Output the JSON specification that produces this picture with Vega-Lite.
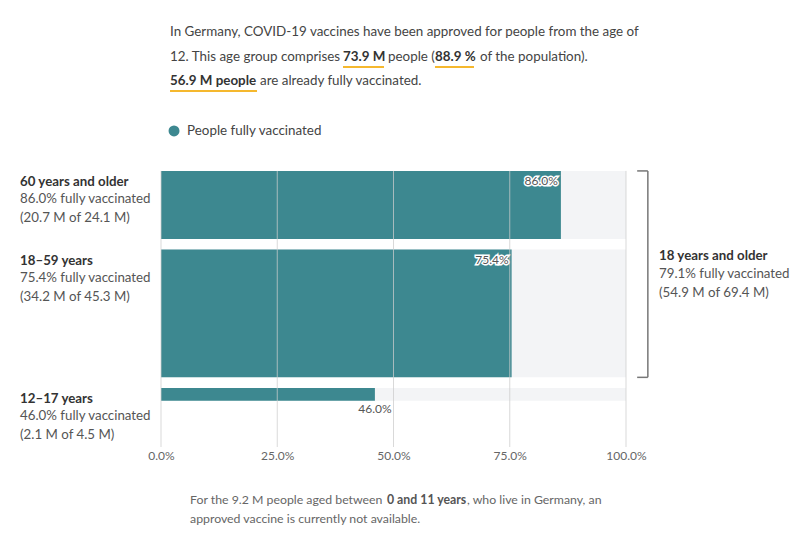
{
  "$schema": "https://vega.github.io/schema/vega-lite/v6.json",
  "width": 465,
  "height": 282,
  "autosize": {"type": "none"},
  "padding": {"left": 161, "top": 165, "right": 174, "bottom": 86},
  "background": "white",
  "config": {"font": "Lato", "view": {"stroke": null}, "text": {"font": "Lato"}},
  "data": {"values": [
    {"group": "60 years and older", "pct": 86.0, "vacc": 20.7, "pop": 24.1, "order": 1},
    {"group": "18–59 years", "pct": 75.4, "vacc": 34.2, "pop": 45.3, "order": 2},
    {"group": "12–17 years", "pct": 46.0, "vacc": 2.1, "pop": 4.5, "order": 3}
  ]},
  "transform": [
    {"window": [{"op": "sum", "field": "pop", "as": "cum"}, {"op": "row_number", "as": "idx"}], "sort": [{"field": "order"}]},
    {"calculate": "datum.cum - datum.pop + 2.1 + (datum.idx - 1) * 3.8", "as": "y0"},
    {"calculate": "datum.y0 + datum.pop", "as": "y1"},
    {"calculate": "0", "as": "zero"},
    {"calculate": "100", "as": "full"},
    {"calculate": "format(datum.pct, '.1f') + '%'", "as": "label"},
    {"calculate": "[format(datum.pct, '.1f') + '% fully vaccinated', '(' + format(datum.vacc, '.1f') + ' M of ' + format(datum.pop, '.1f') + ' M)']", "as": "lines"}
  ],
  "layer": [
    {
      "mark": {"type": "bar", "color": "#f3f4f6"},
      "encoding": {
        "x": {"field": "zero", "type": "quantitative", "scale": {"domain": [0, 100], "nice": false},
          "axis": {"values": [0, 25, 50, 75, 100], "labelExpr": "format(datum.value, '.1f') + '%'", "title": null, "domain": false, "ticks": false, "grid": false, "labelFlush": false, "labelFontSize": 12, "labelColor": "#666", "labelPadding": 3, "labelFont": "Lato"}},
        "x2": {"field": "full"},
        "y": {"field": "y0", "type": "quantitative", "scale": {"domain": [0, 100], "nice": false, "reverse": true}, "axis": null},
        "y2": {"field": "y1"}
      }
    },
    {
      "mark": {"type": "bar", "color": "#3d8890"},
      "encoding": {
        "x": {"field": "zero", "type": "quantitative"},
        "x2": {"field": "pct"},
        "y": {"field": "y0", "type": "quantitative"},
        "y2": {"field": "y1"}
      }
    },
    {
      "data": {"values": [{"t": 0}, {"t": 25}, {"t": 50}, {"t": 75}, {"t": 100}]},
      "transform": [{"calculate": "2.1", "as": "g0"}, {"calculate": "100", "as": "g1"}],
      "mark": {"type": "rule", "color": "#cccccc", "opacity": 0.75, "strokeWidth": 1},
      "encoding": {
        "x": {"field": "t", "type": "quantitative"},
        "y": {"field": "g0", "type": "quantitative"},
        "y2": {"field": "g1"}
      }
    },
    {
      "transform": [{"filter": "datum.pop > 10"}],
      "mark": {"type": "text", "align": "right", "baseline": "top", "dx": -3, "dy": 5, "fontSize": 12, "stroke": "white", "strokeWidth": 3, "fill": "white"},
      "encoding": {
        "x": {"field": "pct", "type": "quantitative"},
        "y": {"field": "y0", "type": "quantitative"},
        "text": {"field": "label"}
      }
    },
    {
      "transform": [{"filter": "datum.pop > 10"}],
      "mark": {"type": "text", "align": "right", "baseline": "top", "dx": -3, "dy": 5, "fontSize": 12, "fill": "#555"},
      "encoding": {
        "x": {"field": "pct", "type": "quantitative"},
        "y": {"field": "y0", "type": "quantitative"},
        "text": {"field": "label"}
      }
    },
    {
      "transform": [{"filter": "datum.pop <= 10"}],
      "mark": {"type": "text", "align": "center", "baseline": "top", "dy": 3, "fontSize": 12, "fill": "#555"},
      "encoding": {
        "x": {"field": "pct", "type": "quantitative"},
        "y": {"field": "y1", "type": "quantitative"},
        "text": {"field": "label"}
      }
    },
    {
      "mark": {"type": "text", "align": "left", "baseline": "middle", "dy": 11, "fontSize": 13.3, "fontWeight": "bold", "fill": "#333"},
      "encoding": {
        "x": {"datum": -30.32, "type": "quantitative"},
        "y": {"field": "y0", "type": "quantitative"},
        "text": {"field": "group"}
      }
    },
    {
      "mark": {"type": "text", "align": "left", "baseline": "top", "dy": 21, "lineHeight": 19, "fontSize": 13.3, "fill": "#555"},
      "encoding": {
        "x": {"datum": -30.32, "type": "quantitative"},
        "y": {"field": "y0", "type": "quantitative"},
        "text": {"field": "lines"}
      }
    },
    {
      "transform": [
        {"filter": "datum.order <= 2"},
        {"aggregate": [{"op": "min", "field": "y0", "as": "top"}, {"op": "max", "field": "y1", "as": "bot"}]},
        {"calculate": "104.7", "as": "bx"}
      ],
      "mark": {"type": "rule", "color": "#777", "strokeWidth": 1.5},
      "encoding": {
        "x": {"field": "bx", "type": "quantitative"},
        "y": {"field": "top", "type": "quantitative"},
        "y2": {"field": "bot"}
      }
    },
    {
      "transform": [
        {"filter": "datum.order <= 2"},
        {"aggregate": [{"op": "min", "field": "y0", "as": "top"}, {"op": "max", "field": "y1", "as": "bot"}]},
        {"fold": ["top", "bot"], "as": ["end", "yy"]},
        {"calculate": "102.4", "as": "bx0"},
        {"calculate": "104.7", "as": "bx1"}
      ],
      "mark": {"type": "rule", "color": "#777", "strokeWidth": 1.5},
      "encoding": {
        "x": {"field": "bx0", "type": "quantitative"},
        "x2": {"field": "bx1"},
        "y": {"field": "yy", "type": "quantitative"}
      }
    },
    {
      "transform": [
        {"filter": "datum.order <= 2"},
        {"aggregate": [{"op": "sum", "field": "vacc", "as": "v"}, {"op": "sum", "field": "pop", "as": "p"}, {"op": "min", "field": "y0", "as": "top"}, {"op": "max", "field": "y1", "as": "bot"}]},
        {"calculate": "(datum.top + datum.bot) / 2", "as": "mid"}
      ],
      "mark": {"type": "text", "align": "left", "baseline": "middle", "dy": -18, "fontSize": 13.3, "fontWeight": "bold", "fill": "#333"},
      "encoding": {
        "x": {"datum": 107.1, "type": "quantitative"},
        "y": {"field": "mid", "type": "quantitative"},
        "text": {"value": "18 years and older"}
      }
    },
    {
      "transform": [
        {"filter": "datum.order <= 2"},
        {"aggregate": [{"op": "sum", "field": "vacc", "as": "v"}, {"op": "sum", "field": "pop", "as": "p"}, {"op": "min", "field": "y0", "as": "top"}, {"op": "max", "field": "y1", "as": "bot"}]},
        {"calculate": "(datum.top + datum.bot) / 2", "as": "mid"},
        {"calculate": "[format(100 * datum.v / datum.p, '.1f') + '% fully vaccinated', '(' + format(datum.v, '.1f') + ' M of ' + format(datum.p, '.1f') + ' M)']", "as": "rlines"}
      ],
      "mark": {"type": "text", "align": "left", "baseline": "top", "dy": -7, "lineHeight": 19, "fontSize": 13.3, "fill": "#555"},
      "encoding": {
        "x": {"datum": 107.1, "type": "quantitative"},
        "y": {"field": "mid", "type": "quantitative"},
        "text": {"field": "rlines"}
      }
    },
    {
      "data": {"values": [{}]},
      "mark": {"type": "text", "align": "left", "baseline": "middle", "fontSize": 13.4, "fill": "#444"},
      "encoding": {"x": {"datum": 1.94, "type": "quantitative"}, "y": {"datum": -47.16, "type": "quantitative"},
        "text": {"value": "In Germany, COVID-19 vaccines have been approved for people from the age of"}}
    },
    {
      "data": {"values": [{}]},
      "mark": {"type": "text", "align": "left", "baseline": "middle", "fontSize": 13.4, "fill": "#444"},
      "encoding": {"x": {"datum": 1.94, "type": "quantitative"}, "y": {"datum": -38.3, "type": "quantitative"},
        "text": {"value": "12. This age group comprises"}}
    },
    {
      "data": {"values": [{}]},
      "mark": {"type": "text", "align": "left", "baseline": "middle", "fontSize": 13.4, "fontWeight": "bold", "fill": "#333"},
      "encoding": {"x": {"datum": 39.14, "type": "quantitative"}, "y": {"datum": -38.3, "type": "quantitative"},
        "text": {"value": "73.9 M"}}
    },
    {
      "data": {"values": [{}]},
      "mark": {"type": "text", "align": "left", "baseline": "middle", "fontSize": 13.4, "fill": "#444"},
      "encoding": {"x": {"datum": 48.82, "type": "quantitative"}, "y": {"datum": -38.3, "type": "quantitative"},
        "text": {"value": "people ("}}
    },
    {
      "data": {"values": [{}]},
      "mark": {"type": "text", "align": "left", "baseline": "middle", "fontSize": 13.4, "fontWeight": "bold", "fill": "#333"},
      "encoding": {"x": {"datum": 58.92, "type": "quantitative"}, "y": {"datum": -38.3, "type": "quantitative"},
        "text": {"value": "88.9 %"}}
    },
    {
      "data": {"values": [{}]},
      "mark": {"type": "text", "align": "left", "baseline": "middle", "fontSize": 13.4, "fill": "#444"},
      "encoding": {"x": {"datum": 68.6, "type": "quantitative"}, "y": {"datum": -38.3, "type": "quantitative"},
        "text": {"value": "of the population)."}}
    },
    {
      "data": {"values": [{}]},
      "mark": {"type": "text", "align": "left", "baseline": "middle", "fontSize": 13.4, "fontWeight": "bold", "fill": "#333"},
      "encoding": {"x": {"datum": 1.94, "type": "quantitative"}, "y": {"datum": -29.79, "type": "quantitative"},
        "text": {"value": "56.9 M people"}}
    },
    {
      "data": {"values": [{}]},
      "mark": {"type": "text", "align": "left", "baseline": "middle", "fontSize": 13.4, "fill": "#444"},
      "encoding": {"x": {"datum": 21.29, "type": "quantitative"}, "y": {"datum": -29.79, "type": "quantitative"},
        "text": {"value": "are already fully vaccinated."}}
    },
    {
      "data": {"values": [{"part": "73.9 M"}, {"part": "88.9 %"}, {"part": "56.9 M people"}]},
      "transform": [
        {"calculate": "datum.part === '73.9 M' ? 39.14 : datum.part === '88.9 %' ? 58.92 : 1.94", "as": "ux0"},
        {"calculate": "datum.part === '73.9 M' ? 47.96 : datum.part === '88.9 %' ? 67.31 : 20.65", "as": "ux1"},
        {"calculate": "datum.part === '56.9 M people' ? -26.24 : -34.75", "as": "uy"}
      ],
      "mark": {"type": "rule", "color": "#f5b82e", "strokeWidth": 2},
      "encoding": {
        "x": {"field": "ux0", "type": "quantitative"},
        "x2": {"field": "ux1"},
        "y": {"field": "uy", "type": "quantitative"}
      }
    },
    {
      "data": {"values": [{}]},
      "mark": {"type": "text", "align": "left", "baseline": "middle", "fontSize": 12.3, "fill": "#666"},
      "encoding": {"x": {"datum": 6.24, "type": "quantitative"}, "y": {"datum": 118.8, "type": "quantitative"},
        "text": {"value": "For the 9.2 M people aged between"}}
    },
    {
      "data": {"values": [{}]},
      "mark": {"type": "text", "align": "left", "baseline": "middle", "fontSize": 12.3, "fontWeight": "bold", "fill": "#555"},
      "encoding": {"x": {"datum": 48.6, "type": "quantitative"}, "y": {"datum": 118.8, "type": "quantitative"},
        "text": {"value": "0 and 11 years"}}
    },
    {
      "data": {"values": [{}]},
      "mark": {"type": "text", "align": "left", "baseline": "middle", "fontSize": 12.3, "fill": "#666"},
      "encoding": {"x": {"datum": 65.8, "type": "quantitative"}, "y": {"datum": 118.8, "type": "quantitative"},
        "text": {"value": ", who live in Germany, an"}}
    },
    {
      "data": {"values": [{}]},
      "mark": {"type": "text", "align": "left", "baseline": "middle", "fontSize": 12.3, "fill": "#666"},
      "encoding": {"x": {"datum": 6.24, "type": "quantitative"}, "y": {"datum": 125.5, "type": "quantitative"},
        "text": {"value": "approved vaccine is currently not available."}}
    },
    {
      "data": {"values": [{"series": "People fully vaccinated"}]},
      "mark": {"type": "point", "filled": true, "shape": "circle", "size": 120, "opacity": 1, "color": "#3d8890"},
      "encoding": {
        "x": {"datum": 2.8, "type": "quantitative"},
        "y": {"datum": -12.06, "type": "quantitative"}
      }
    },
    {
      "data": {"values": [{"series": "People fully vaccinated"}]},
      "mark": {"type": "text", "align": "left", "baseline": "middle", "fontSize": 13.4, "fill": "#444"},
      "encoding": {
        "x": {"datum": 5.6, "type": "quantitative"},
        "y": {"datum": -12.06, "type": "quantitative"},
        "text": {"field": "series"}
      }
    }
  ],
  "resolve": {"scale": {"x": "shared", "y": "shared"}}
}
